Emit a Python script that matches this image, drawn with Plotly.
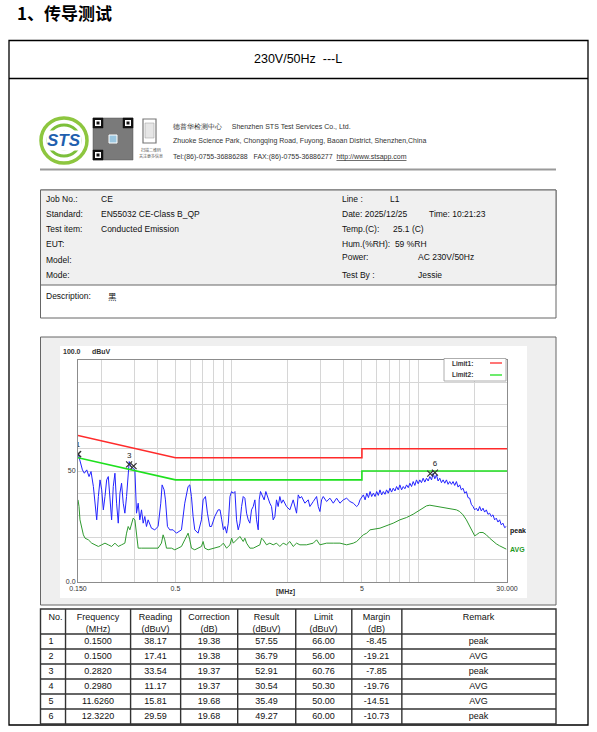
import plotly.graph_objects as go

W, H = 597, 732

# ---- chart data ----
peak_freq = [0.150, 0.1537, 0.1584, 0.1622, 0.1671, 0.1719, 0.1762, 0.1814, 0.1852, 0.1890,
             0.1929, 0.1969, 0.2010, 0.2051, 0.2093, 0.2137, 0.2181, 0.2226, 0.2272, 0.2319,
             0.2367, 0.2416, 0.2466, 0.2517, 0.2569, 0.2622, 0.2676, 0.2732, 0.2788, 0.2823,
             0.2881, 0.2966, 0.3028, 0.3090, 0.3154, 0.3219, 0.3286, 0.3354, 0.3423, 0.3494,
             0.3566, 0.3716, 0.3871, 0.4034, 0.4169, 0.4238, 0.4345, 0.4417, 0.4528, 0.4660,
             0.4855, 0.5059, 0.5383, 0.5607, 0.5843, 0.5965, 0.6089, 0.6215, 0.6345, 0.6611,
             0.6889, 0.7032, 0.7238, 0.7419, 0.7636, 0.7795, 0.8123, 0.8464,
             0.867, 0.885, 0.903, 0.921, 0.940, 0.960, 0.980, 1.000, 1.021, 1.042,
             1.063, 1.085, 1.108, 1.131, 1.154, 1.178, 1.203, 1.228, 1.253, 1.279,
             1.306, 1.333, 1.361, 1.389, 1.406, 1.429, 1.465, 1.495, 1.526, 1.571,
             1.603, 1.637, 1.671, 1.706, 1.741, 1.777, 1.814, 1.852, 1.890, 1.970,
             2.053, 2.140, 2.230, 2.277, 2.324, 2.372, 2.472, 2.576, 2.630, 2.741,
             2.856, 2.916, 2.976, 3.038, 3.101, 3.232, 3.368, 3.510, 3.658, 3.812,
             3.973, 4.140, 4.314, 4.496, 4.686, 4.783, 4.883,
             5.09, 5.20, 5.31, 5.42, 5.53, 5.64, 5.76, 5.88, 6.00, 6.12,
             6.25, 6.38, 6.51, 6.65, 6.78, 6.92, 7.07, 7.21, 7.36, 7.52,
             7.67, 7.83, 7.99, 8.16, 8.33, 8.50, 8.68, 8.86, 9.04, 9.23,
             9.42, 9.61, 9.81, 10.02, 10.22, 10.43, 10.65, 10.87, 11.10, 11.33,
             11.57, 11.81, 12.05, 12.30, 12.55, 12.81, 13.08, 13.35, 13.63, 13.91,
             14.20, 14.49, 14.79, 15.10, 15.41, 15.73, 16.06, 16.39, 16.73, 17.07,
             17.43, 17.79, 18.16, 18.53, 18.92, 19.31, 19.72, 20.13, 20.54, 20.96,
             21.40, 21.84, 22.30, 22.76, 23.24, 23.72, 24.21, 24.71, 25.23, 25.75,
             26.28, 26.83, 27.38, 27.95, 28.53, 29.13, 29.73]
peak_level = [58.0, 55.0, 50.5, 49.0, 50.5, 47.5, 49.75, 43.0, 34.0, 28.0,
              38.5, 46.0, 41.5, 32.5, 38.5, 46.0, 47.5, 37.0, 28.0, 43.0,
              49.0, 35.5, 26.5, 40.0, 44.5, 35.5, 31.0, 38.5, 52.0, 54.25,
              52.0, 51.25, 50.5, 31.0, 35.5, 28.0, 32.5, 26.5, 29.5, 25.0,
              28.0, 24.25, 23.5, 25.0, 35.5, 43.75, 41.5, 37.0, 25.0, 23.5,
              23.5, 22.0, 23.5, 35.5, 43.0, 43.75, 38.5, 29.5, 23.5, 22.0,
              28.0, 37.0, 38.5, 31.0, 25.0, 25.0, 29.5, 32.5,
              32.5, 28.0, 23.5, 25.0, 22.0, 26.5, 38.5, 40.75, 40.0, 40.75,
              28.0, 23.5, 26.5, 34.0, 38.5, 37.75, 31.0, 28.0, 26.5, 32.5,
              34.0, 37.0, 28.0, 23.5, 37.0, 40.75, 38.5, 37.0, 40.75, 37.0,
              35.5, 34.0, 28.0, 29.5, 37.0, 34.0, 38.5, 35.5, 37.0, 34.0,
              32.5, 37.0, 31.0, 39.25, 37.75, 38.5, 35.5, 37.0, 34.0, 36.25,
              38.5, 34.0, 31.75, 37.0, 38.5, 36.25, 37.75, 35.5, 37.75, 35.5,
              37.0, 37.75, 36.25, 35.5, 34.0, 34.75, 37.0,
              39.25, 37.0, 40.0, 38.0, 40.75, 38.5, 40.0, 38.5, 40.75, 39.0,
              41.5, 39.25, 40.75, 39.5, 41.5, 40.0, 42.25, 40.5, 42.25, 41.0,
              43.0, 41.5, 43.75, 41.5, 43.0, 42.0, 43.75, 42.5, 44.5, 43.0,
              45.25, 43.5, 46.0, 44.25, 46.0, 44.75, 46.75, 45.0, 46.75, 45.5,
              47.5, 46.0, 49.0, 46.5, 48.25, 45.5, 46.75, 44.75, 46.0, 44.5,
              46.0, 44.0, 45.25, 44.0, 45.25, 43.5, 45.25, 42.75, 43.75, 41.5,
              42.25, 40.0, 40.75, 38.0, 37.75, 35.0, 34.0, 32.5, 33.25, 32.0,
              34.0, 32.0, 33.25, 31.5, 32.5, 30.5, 31.0, 29.5, 30.25, 28.0,
              28.75, 27.0, 28.0, 25.75, 26.5, 24.5, 25.0]

avg_freq = [0.150, 0.1519, 0.1537, 0.1571, 0.1603, 0.1636, 0.1705, 0.1777, 0.1852, 0.1929,
            0.2010, 0.2093, 0.2181, 0.2272, 0.2367, 0.2466, 0.2569, 0.2676, 0.2732, 0.2788,
            0.2847, 0.2908, 0.2966, 0.3028, 0.3090, 0.3154, 0.3286, 0.3423, 0.3716, 0.4034,
            0.4203, 0.4292, 0.4381, 0.4473, 0.4758, 0.4957, 0.5164, 0.5383, 0.5607, 0.5843,
            0.5965, 0.6089, 0.6345, 0.6889, 0.7032, 0.7179, 0.7481, 0.8123,
            0.867, 0.903, 0.940, 0.980, 1.000, 1.021, 1.063, 1.108, 1.154, 1.178,
            1.203, 1.253, 1.306, 1.361, 1.418, 1.448, 1.477, 1.539, 1.603, 1.671,
            1.741, 1.814, 1.890, 1.970, 2.053, 2.140, 2.230, 2.324, 2.523, 2.741,
            2.856, 2.976, 3.232, 3.510, 3.812, 4.140, 4.496, 4.686, 4.883, 5.088,
            5.302, 5.526,
            6.25, 6.78, 7.36, 7.99, 8.68, 9.42, 10.22, 10.65, 11.10, 11.57,
            12.05, 13.08, 14.20, 15.41, 16.06, 16.73, 17.43, 18.16, 18.92, 19.72,
            20.13, 20.54, 21.40, 22.30, 23.24, 24.21, 25.23, 26.28, 27.38, 28.53,
            29.73]
avg_level = [37.0, 34.0, 28.0, 23.5, 21.25, 19.75, 19.0, 17.5, 16.75, 16.0,
             16.75, 17.5, 16.75, 16.0, 17.5, 16.0, 16.75, 17.5, 22.0, 25.0,
             23.5, 26.5, 28.75, 28.0, 20.5, 15.25, 15.25, 15.25, 15.25, 15.25,
             17.5, 21.25, 19.0, 15.25, 15.25, 14.5, 15.25, 16.0, 19.0, 22.0,
             19.0, 15.25, 14.5, 16.0, 18.25, 15.25, 14.5, 15.25,
             16.0, 17.5, 15.25, 16.75, 19.75, 17.5, 19.0, 20.5, 18.25, 19.75,
             17.5, 15.25, 15.25, 16.0, 16.75, 19.75, 19.0, 16.75, 17.5, 16.75,
             17.5, 16.0, 17.5, 16.75, 18.25, 16.0, 17.5, 16.75, 16.75, 17.5,
             19.0, 16.75, 17.5, 17.5, 17.5, 16.75, 17.5, 18.25, 19.75, 21.25,
             22.0, 23.5,
             24.25, 25.3, 26.5, 28.0, 29.05, 30.55, 32.5, 33.7, 34.3, 34.6,
             34.3, 33.7, 33.25, 32.8, 32.5, 31.75, 30.25, 28.0, 25.0, 22.0,
             20.8, 21.25, 22.3, 22.3, 21.25, 19.75, 18.25, 17.2, 16.3, 15.55,
             14.8]

limit_freq = [0.15, 0.5, 5, 5, 30]
limit1_level = [66, 56, 56, 60, 60]
limit2_level = [56, 46, 46, 50, 50]

mark_freq = [0.15, 0.15, 0.282, 0.298, 11.626, 12.322]
mark_level = [57.6, 57.6, 53.0, 52.2, 48.8, 49.3]
mark_label = ["1", "", "3", "", "", "6"]

grid_freq = [0.15, 0.2, 0.3, 0.4, 0.5, 0.6, 0.7, 0.8, 0.9, 1, 2, 3, 4, 5, 6, 7, 8, 9, 10, 20, 30]
grid_text = ["0.150", "", "", "", "0.5", "", "", "", "", "", "", "", "", "5", "", "", "", "", "", "", "30.000"]
level_ticks = [0, 10, 20, 30, 40, 50, 60, 70, 80, 90, 100]
level_text = ["0.0", "", "", "", "", "50", "", "", "", "", ""]

# ---- result table ----
tbl_no = [1, 2, 3, 4, 5, 6]
tbl_freq = [0.1500, 0.1500, 0.2820, 0.2980, 11.6260, 12.3220]
tbl_reading = [38.17, 17.41, 33.54, 11.17, 15.81, 29.59]
tbl_correction = [19.38, 19.38, 19.37, 19.37, 19.68, 19.68]
tbl_result = [57.55, 36.79, 52.91, 30.54, 35.49, 49.27]
tbl_limit = [66.00, 56.00, 60.76, 50.30, 50.00, 60.00]
tbl_margin = [-8.45, -19.21, -7.85, -19.76, -14.51, -10.73]
tbl_remark = ["peak", "AVG", "peak", "AVG", "AVG", "peak"]
tbl_head1 = ["No.", "Frequency", "Reading", "Correction", "Result", "Limit", "Margin", "Remark"]
tbl_head2 = ["", "(MHz)", "(dBuV)", "(dB)", "(dBuV)", "(dBuV)", "(dB)", ""]
tbl_widths = [25, 65, 50, 57, 58, 56, 50, 154]

FONT = "Liberation Sans, Arial, sans-serif"
CJK = "Noto Sans CJK SC"


def X(p):
    return p / W


def Y(p):
    return 1 - p / H


shapes = []


def rect(x0, y0, x1, y1, fill=None, line="#000", lw=1, layer="below"):
    shapes.append(dict(type="rect", xref="paper", yref="paper", x0=X(x0), x1=X(x1), y0=Y(y0), y1=Y(y1),
                       fillcolor=fill or "rgba(0,0,0,0)", line=dict(color=line, width=lw), layer=layer))


def hline(x0, x1, y, color="#000", lw=1, layer="below"):
    shapes.append(dict(type="line", xref="paper", yref="paper", x0=X(x0), x1=X(x1), y0=Y(y), y1=Y(y),
                       line=dict(color=color, width=lw), layer=layer))


def vline(x, y0, y1, color="#000", lw=1, layer="below"):
    shapes.append(dict(type="line", xref="paper", yref="paper", x0=X(x), x1=X(x), y0=Y(y0), y1=Y(y1),
                       line=dict(color=color, width=lw), layer=layer))


def circ(x0, y0, x1, y1, color, lw=3):
    shapes.append(dict(type="circle", xref="paper", yref="paper", x0=X(x0), x1=X(x1), y0=Y(y0), y1=Y(y1),
                       line=dict(color=color, width=lw), layer="below"))


annots = []


def text(x, y, s, size=8.5, color="#111", anchor="left", family=FONT, **kw):
    annots.append(dict(x=X(x), y=Y(y), xref="paper", yref="paper", text=s, showarrow=False,
                       xanchor=anchor, yanchor="middle", font=dict(size=size, color=color, family=family),
                       borderpad=0, **kw))


# page header
text(16, 13, "<b>1、传导测试</b>", size=17, color="#000", family=CJK)
rect(9, 40.5, 588, 725, line="#000", lw=1.3)
hline(9, 588, 78.5, lw=1.3)
text(298, 59, "230V/50Hz\u00a0\u00a0---L", size=12.5, color="#000", anchor="center")

# logo block
circ(41, 118, 87, 163, "#8dc63f", 3.5)
circ(48, 125, 80, 156, "#7cbf3a", 3)
circ(55, 132, 73, 149, "#6cb33f", 2.5)
text(64, 140.5, "<b><i>STS</i></b>", size=17, color="#1f5fae", anchor="center", bgcolor="#ffffff")
rect(93, 118, 133, 160, fill="#7a7a7a", line="#555", lw=0.5)
for qx, qy in [(93, 118), (123, 118), (93, 150)]:
    rect(qx, qy, qx + 10, qy + 10, fill="#111", line="#111", lw=0.5)
    rect(qx + 2, qy + 2, qx + 8, qy + 8, fill="#fff", line="#fff", lw=0)
    rect(qx + 3.5, qy + 3.5, qx + 6.5, qy + 6.5, fill="#111", line="#111", lw=0)
rect(109, 135, 117, 143, fill="#9cc7e0", line="#fff", lw=1)
rect(143, 119, 156, 143, fill="#fff", line="#777", lw=1.2)
rect(145, 123, 154, 138, fill="#e6e6e6", line="#999", lw=0.5)
text(151, 150, "扫描二维码", size=4, color="#555", anchor="center", family=CJK)
text(151, 156, "关注更多信息", size=4, color="#555", anchor="center", family=CJK)
text(172, 126, "德普华检测中心\u00a0\u00a0\u00a0\u00a0\u00a0Shenzhen STS Test Services Co., Ltd.", size=7, color="#333")
text(172, 141, "Zhuoke Science Park, Chongqing Road, Fuyong, Baoan District, Shenzhen,China", size=7, color="#333")
text(172, 157, "Tel:(86)-0755-36886288\u00a0\u00a0\u00a0FAX:(86)-0755-36886277\u00a0\u00a0<u>http://www.stsapp.com</u>",
     size=7, color="#333")
hline(40, 556, 169.5, color="#9a9a9a", lw=2)

# info box
rect(40.5, 190, 556, 318, fill="#ffffff", line="#666", lw=1)
rect(40.5, 190, 556, 285, fill="#f0f0f0", line="#666", lw=1)
info_left = [("Job No.:", "CE", 199), ("Standard:", "EN55032 CE-Class B_QP", 214),
             ("Test item:", "Conducted Emission", 229), ("EUT:", "", 244),
             ("Model:", "", 260), ("Mode:", "", 275)]
for lab, val, yy in info_left:
    text(45, yy, lab)
    text(100, yy, val)
text(341, 199, "Line :")
text(389, 199, "L1")
text(341, 214, "Date: 2025/12/25")
text(428, 214, "Time: 10:21:23")
text(341, 229, "Temp.(C):")
text(392, 229, "25.1 (C)")
text(341, 244, "Hum.(%RH):\u00a0 59 %RH")
text(341, 257, "Power:")
text(417, 257, "AC 230V/50Hz")
text(341, 275, "Test By :")
text(417, 275, "Jessie")
text(45, 296, "Description:")
text(107, 296, "黑", family=CJK)

# chart frame
rect(40.5, 337, 556, 605, fill="#efefef", line="#666", lw=1)
rect(60, 346, 527, 598, fill="#ffffff", line="#ffffff", lw=0)
text(62, 351, "<b>100.0</b>", size=7, color="#333")
text(91, 351, "<b>dBuV</b>", size=7, color="#333")
text(285, 592, "<b>[MHz]</b>", size=7, color="#333", anchor="center")
text(509, 531, "<b>peak</b>", size=7, color="#111")
text(509, 549, "<b>AVG</b>", size=7, color="#1f9a1f")

# legend box
rect(444, 358.5, 506, 381, fill="#ffffff", line="#999", lw=0.8, layer="above")
text(451, 363, "<b>Limit1:</b>", size=6.5, color="#333")
text(451, 375, "<b>Limit2:</b>", size=6.5, color="#333")
hline(490, 502, 363, color="#ff2b2b", lw=1.3, layer="above")
hline(490, 502, 375, color="#1ee01e", lw=1.3, layer="above")

# table ruling (cell text comes from the table trace below)
TX0, TX1, TY0, THEAD, TROW = 40.5, 556, 609, 25, 15
ty_end = TY0 + THEAD + TROW * len(tbl_no)
rect(TX0, TY0, TX1, ty_end, fill="#ffffff", line="#333", lw=1.4)
hline(TX0, TX1, TY0 + THEAD, color="#333", lw=1.4)
for i in range(1, len(tbl_no)):
    hline(TX0, TX1, TY0 + THEAD + TROW * i, color="#333", lw=1.4)
edge = TX0
for w in tbl_widths[:-1]:
    edge += w * (TX1 - TX0) / sum(tbl_widths)
    vline(edge, TY0, ty_end, color="#333", lw=1.4)

fig = go.Figure()
fig.add_trace(go.Scatter(x=avg_freq, y=avg_level, mode="lines", line=dict(color="#2f9a2f", width=1)))
fig.add_trace(go.Scatter(x=peak_freq, y=peak_level, mode="lines", line=dict(color="#2323ff", width=1)))
fig.add_trace(go.Scatter(x=limit_freq, y=limit1_level, mode="lines", line=dict(color="#ff2b2b", width=1.6)))
fig.add_trace(go.Scatter(x=limit_freq, y=limit2_level, mode="lines", line=dict(color="#1ee01e", width=1.6)))
fig.add_trace(go.Scatter(x=mark_freq, y=mark_level, mode="markers+text", text=mark_label,
                         textposition="top center", textfont=dict(size=8, color="#222", family=FONT),
                         marker=dict(symbol="x-thin-open", size=6, color="#333",
                                     line=dict(color="#333", width=1.2))))

# plotly places cell text ~11px under a cell's top, so the grid of the trace is
# lifted a little and its own lines are hidden; the ruling above shows instead
fig.add_trace(go.Table(
    domain=dict(x=[X(TX0), X(TX1)], y=[Y(725), Y(605.5)]),
    columnwidth=tbl_widths,
    header=dict(values=[[a, b] for a, b in zip(tbl_head1, tbl_head2)], height=12,
                align=["left"] + ["center"] * 7,
                line=dict(color="rgba(0,0,0,0)", width=0), fill=dict(color="rgba(0,0,0,0)"),
                font=dict(size=9, color="#111", family=FONT)),
    cells=dict(values=[tbl_no, tbl_freq, tbl_reading, tbl_correction, tbl_result, tbl_limit,
                       tbl_margin, tbl_remark],
               format=["", ".4f", ".2f", ".2f", ".2f", ".2f", ".2f", ""],
               height=15, align=["left"] + ["center"] * 7,
               line=dict(color="rgba(0,0,0,0)", width=0), fill=dict(color="rgba(0,0,0,0)"),
               font=dict(size=9, color="#111", family=FONT)),
))

fig.update_layout(
    width=W, height=H, margin=dict(l=0, r=0, t=0, b=0, pad=0, autoexpand=False), autosize=False,
    paper_bgcolor="#ffffff", plot_bgcolor="rgba(0,0,0,0)", showlegend=False,
    shapes=shapes, annotations=annots,
    xaxis=dict(type="log", domain=[X(78), X(507)], range=[-0.82391, 1.47712],
               tickmode="array", tickvals=grid_freq, ticktext=grid_text, ticks="",
               showgrid=True, gridcolor="#d6d6d6", gridwidth=1, zeroline=False,
               showline=True, linecolor="#8c8c8c", mirror=True, automargin=False,
               tickfont=dict(size=7, color="#333", family=FONT)),
    yaxis=dict(domain=[Y(582), Y(360)], range=[0, 100],
               tickmode="array", tickvals=level_ticks, ticktext=level_text, ticks="",
               showgrid=True, gridcolor="#d6d6d6", zeroline=False,
               showline=True, linecolor="#8c8c8c", mirror=True, automargin=False,
               tickfont=dict(size=7, color="#333", family=FONT)),
)

fig.write_html("out.html", config={"displayModeBar": False},
               post_script="document.body.style.margin='0px';document.body.style.overflow='hidden';")
